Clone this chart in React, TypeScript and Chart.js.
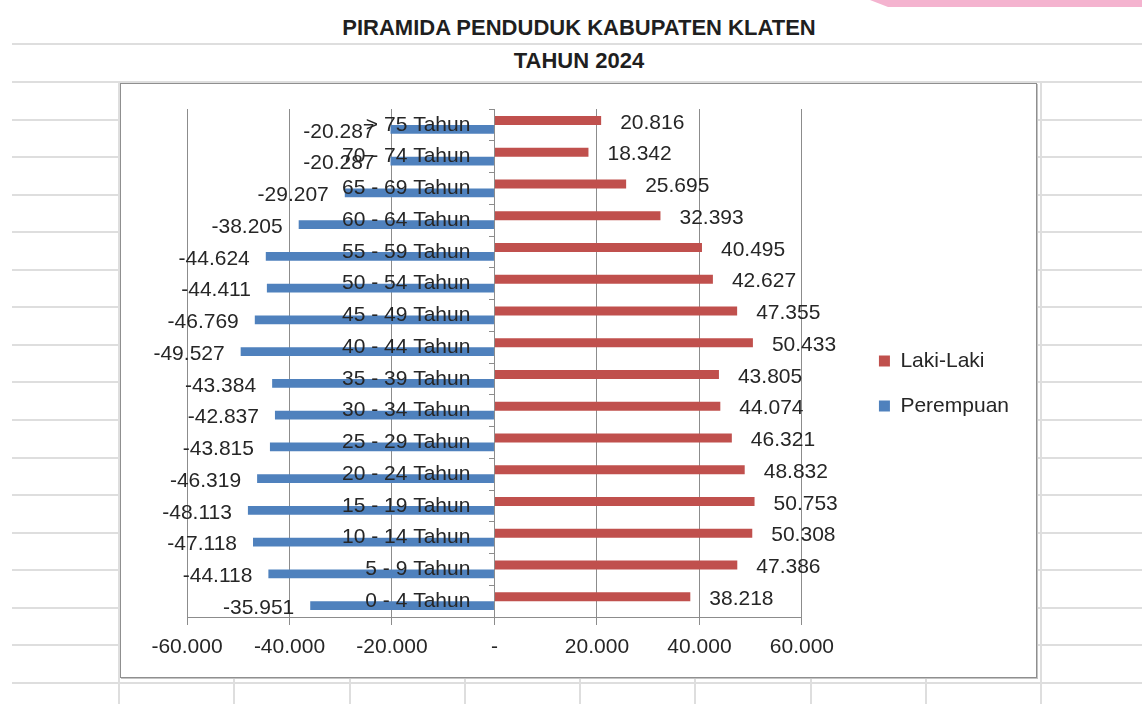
import React, { useEffect, useRef } from "react";
import { Chart, registerables } from "chart.js";

Chart.register(...registerables);

const categories = [
  "> 75 Tahun",
  "70 - 74 Tahun",
  "65 - 69 Tahun",
  "60 - 64 Tahun",
  "55 - 59 Tahun",
  "50 - 54 Tahun",
  "45 - 49 Tahun",
  "40 - 44 Tahun",
  "35 - 39 Tahun",
  "30 - 34 Tahun",
  "25 - 29 Tahun",
  "20 - 24 Tahun",
  "15 - 19 Tahun",
  "10 - 14 Tahun",
  "5 - 9 Tahun",
  "0 - 4 Tahun",
];

const lakiLaki = [
  20816, 18342, 25695, 32393, 40495, 42627, 47355, 50433, 43805, 44074, 46321,
  48832, 50753, 50308, 47386, 38218,
];

const perempuan = [
  -20287, -20287, -29207, -38205, -44624, -44411, -46769, -49527, -43384,
  -42837, -43815, -46319, -48113, -47118, -44118, -35951,
];

const xMin = -60000;
const xMax = 60000;
const xStep = 20000;

const titleLines = ["PIRAMIDA PENDUDUK KABUPATEN KLATEN", "TAHUN 2024"];

const FONT = "'Liberation Sans', Arial, sans-serif";
const TEXT = "#262626";
const GRID = "#8c8c8c";

const fmt = (v: number) => {
  const s = Math.abs(Math.round(v))
    .toString()
    .replace(/\B(?=(\d{3})+(?!\d))/g, ".");
  return (v < 0 ? "-" : "") + s;
};

const valueLabels = {
  id: "valueLabels",
  afterDatasetsDraw(chart: any) {
    const ctx = chart.ctx;
    ctx.save();
    ctx.font = `21px ${FONT}`;
    ctx.fillStyle = TEXT;
    ctx.textBaseline = "middle";
    chart.data.datasets.forEach((ds: any, di: number) => {
      const meta = chart.getDatasetMeta(di);
      meta.data.forEach((el: any, i: number) => {
        const v = ds.data[i] as number;
        const { x, y } = el.getProps(["x", "y"], true);
        if (v >= 0) {
          ctx.textAlign = "left";
          ctx.fillText(fmt(v), x + 19, y + 2.5);
        } else {
          ctx.textAlign = "right";
          ctx.fillText(fmt(v), x - 16, y + 2.5);
        }
      });
    });
    ctx.restore();
  },
};

function PyramidChart() {
  const ref = useRef<HTMLCanvasElement | null>(null);
  useEffect(() => {
    if (!ref.current) return;
    const chart = new Chart(ref.current, {
      type: "bar",
      data: {
        labels: categories,
        datasets: [
          {
            label: "Laki-Laki",
            data: lakiLaki,
            backgroundColor: "#C0504D",
            borderWidth: 0,
            xAxisID: "x",
            yAxisID: "y",
          },
          {
            label: "Perempuan",
            data: perempuan,
            backgroundColor: "#4F81BD",
            borderWidth: 0,
            xAxisID: "x",
            yAxisID: "y",
          },
        ],
      },
      options: {
        indexAxis: "y",
        responsive: false,
        animation: false,
        datasets: {
          bar: { categoryPercentage: 0.56, barPercentage: 1 },
        },
        layout: { padding: { left: 66, top: 25, right: 17, bottom: 19 } },
        plugins: {
          tooltip: { enabled: false },
          title: { display: false },
          legend: {
            position: "right",
            align: "center",
            maxWidth: 400,
            labels: {
              boxWidth: 11,
              boxHeight: 11,
              padding: 24,
              color: TEXT,
              font: { size: 21, family: FONT },
            },
          },
        },
        scales: {
          x: {
            type: "linear",
            position: "bottom",
            min: xMin,
            max: xMax,
            ticks: {
              stepSize: xStep,
              color: TEXT,
              padding: 12,
              font: { size: 21, family: FONT, lineHeight: 1 },
              callback: (v: any) => (Number(v) === 0 ? "-" : fmt(Number(v))),
            },
            grid: { color: GRID, lineWidth: 1, tickLength: 8, drawTicks: true },
            border: { color: GRID },
            afterFit: (s: any) => {
              s.height = 41;
            },
          },
          y: {
            type: "category",
            position: { x: 0 } as any,
            offset: true,
            ticks: { display: false },
            grid: {
              display: true,
              drawOnChartArea: false,
              drawTicks: true,
              tickLength: 5,
              offset: true,
              color: GRID,
            },
            border: { display: true, color: GRID },
          },
          yLabels: {
            type: "category",
            position: { x: -4700 } as any,
            offset: true,
            ticks: {
              z: 1,
              color: TEXT,
              font: { size: 21, family: FONT },
            },
            grid: { display: false },
            border: { display: false },
          },
          ySpacer: {
            type: "category",
            position: "right",
            display: true,
            ticks: { display: false },
            grid: { display: false },
            border: { display: false },
            afterFit: (s: any) => {
              s.width = 53;
            },
          },
        },
      } as any,
      plugins: [valueLabels],
    });
    return () => chart.destroy();
  }, []);
  return (
    <canvas
      ref={ref}
      width={915}
      height={593}
      style={{ position: "absolute", left: 121, top: 84, width: 915, height: 593 }}
    />
  );
}

export default function App() {
  const rows: number[] = [];
  for (let k = -1; k <= 17; k++) rows.push(Math.round(81 + 37.56 * k));
  const cols: number[] = [];
  for (let k = 0; k <= 8; k++) cols.push(Math.round(118 + 115.25 * k));
  return (
    <div
      style={{
        position: "fixed",
        left: 0,
        top: 0,
        width: 1142,
        height: 704,
        overflow: "hidden",
        background: "#ffffff",
        fontFamily: FONT,
      }}
    >
      {rows.map((y) => (
        <div
          key={"r" + y}
          style={{ position: "absolute", left: 12, top: y, width: 1130, height: 2, background: "#dedede" }}
        />
      ))}
      {cols.map((x) => (
        <div
          key={"c" + x}
          style={{ position: "absolute", left: x, top: 81, width: 2, height: 623, background: "#dedede" }}
        />
      ))}
      <div
        style={{
          position: "absolute",
          left: 870,
          top: 0,
          width: 272,
          height: 7,
          background: "#F4B3CF",
          clipPath: "polygon(0 0, 100% 0, 100% 100%, 18px 100%)",
        }}
      />
      <div
        style={{
          position: "absolute",
          left: 279,
          top: 17,
          width: 600,
          textAlign: "center",
          fontWeight: "bold",
          fontSize: 22,
          lineHeight: "22px",
          color: "#1f1f1f",
        }}
      >
        {titleLines[0]}
      </div>
      <div
        style={{
          position: "absolute",
          left: 279,
          top: 50,
          width: 600,
          textAlign: "center",
          fontWeight: "bold",
          fontSize: 22,
          lineHeight: "22px",
          color: "#1f1f1f",
        }}
      >
        {titleLines[1]}
      </div>
      <div
        style={{
          position: "absolute",
          left: 120,
          top: 83,
          width: 917,
          height: 595,
          boxSizing: "border-box",
          border: "1px solid #8f8f8f",
          boxShadow: "1px 1px 0 #c4c4c4",
          background: "#ffffff",
        }}
      />
      <PyramidChart />
    </div>
  );
}
